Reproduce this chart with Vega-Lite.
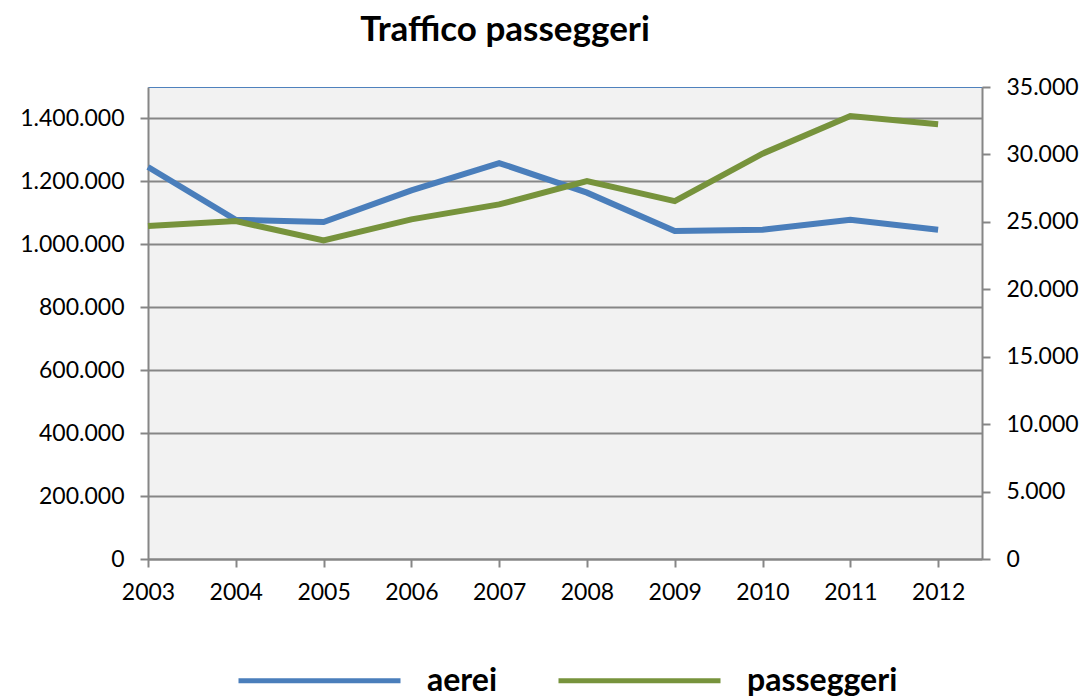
{
  "$schema": "https://vega.github.io/schema/vega-lite/v6.json",
  "autosize": {"type": "none"},
  "width": 834,
  "height": 472,
  "padding": {"left": 148, "top": 87, "right": 108, "bottom": 139},
  "background": "white",
  "config": {
    "locale": {"number": {"decimal": ",", "thousands": ".", "grouping": [3], "currency": ["€", ""]}},
    "font": "Lato",
    "view": {"fill": "#F2F2F2", "stroke": "#4F81BD", "strokeWidth": 1}
  },
  "title": {
    "text": "Traffico passeggeri",
    "fontSize": 35,
    "fontWeight": "bold",
    "font": "Lato",
    "color": "#000000",
    "anchor": "middle",
    "dx": -60,
    "offset": 28
  },
  "data": {
    "values": [
      {"anno": 2003, "serie": "aerei", "valore": 29065},
      {"anno": 2004, "serie": "aerei", "valore": 25160},
      {"anno": 2005, "serie": "aerei", "valore": 24983},
      {"anno": 2006, "serie": "aerei", "valore": 27335},
      {"anno": 2007, "serie": "aerei", "valore": 29361},
      {"anno": 2008, "serie": "aerei", "valore": 27165},
      {"anno": 2009, "serie": "aerei", "valore": 24314},
      {"anno": 2010, "serie": "aerei", "valore": 24418},
      {"anno": 2011, "serie": "aerei", "valore": 25160},
      {"anno": 2012, "serie": "aerei", "valore": 24418},
      {"anno": 2003, "serie": "passeggeri", "valore": 1057900},
      {"anno": 2004, "serie": "passeggeri", "valore": 1073800},
      {"anno": 2005, "serie": "passeggeri", "valore": 1012400},
      {"anno": 2006, "serie": "passeggeri", "valore": 1079200},
      {"anno": 2007, "serie": "passeggeri", "valore": 1126900},
      {"anno": 2008, "serie": "passeggeri", "valore": 1201000},
      {"anno": 2009, "serie": "passeggeri", "valore": 1137400},
      {"anno": 2010, "serie": "passeggeri", "valore": 1288200},
      {"anno": 2011, "serie": "passeggeri", "valore": 1407800},
      {"anno": 2012, "serie": "passeggeri", "valore": 1381400}
    ]
  },
  "encoding": {
    "x": {
      "field": "anno",
      "type": "quantitative",
      "scale": {"domain": [2003, 2012.5], "nice": false, "zero": false},
      "axis": {
        "title": null,
        "values": [2003, 2004, 2005, 2006, 2007, 2008, 2009, 2010, 2011, 2012],
        "format": "d",
        "grid": false,
        "domainColor": "#868686",
        "domainWidth": 2,
        "tickColor": "#868686",
        "tickWidth": 2,
        "tickSize": 8,
        "labelFont": "Lato",
        "labelFontSize": 23,
        "labelColor": "#000000",
        "labelPadding": 14,
        "labelFlush": false
      }
    },
    "color": {
      "field": "serie",
      "type": "nominal",
      "scale": {"domain": ["aerei", "passeggeri"], "range": ["#4A7EBB", "#77933C"]},
      "legend": {
        "title": null,
        "orient": "none",
        "direction": "horizontal",
        "legendX": 88,
        "legendY": 510,
        "symbolType": "stroke",
        "symbolSize": 26244,
        "symbolStrokeWidth": 5,
        "labelFont": "Lato",
        "labelFontSize": 32,
        "labelFontWeight": "bold",
        "labelColor": "#000000",
        "labelOffset": 24,
        "columnPadding": 50
      }
    }
  },
  "layer": [
    {
      "transform": [{"filter": "datum.serie === 'aerei'"}],
      "mark": {"type": "line", "strokeWidth": 6},
      "encoding": {
        "y": {
          "field": "valore",
          "type": "quantitative",
          "scale": {"domain": [0, 35000], "nice": false},
          "axis": {
            "orient": "right",
            "title": null,
            "values": [0, 5000, 10000, 15000, 20000, 25000, 30000, 35000],
            "format": ",d",
            "grid": false,
            "domainColor": "#868686",
            "domainWidth": 2,
            "tickColor": "#868686",
            "tickWidth": 2,
            "tickSize": 8,
            "labelFont": "Lato",
            "labelFontSize": 23,
            "labelColor": "#000000",
            "labelPadding": 16,
            "labelFlush": false
          }
        }
      }
    },
    {
      "transform": [{"filter": "datum.serie === 'passeggeri'"}],
      "mark": {"type": "line", "strokeWidth": 6},
      "encoding": {
        "y": {
          "field": "valore",
          "type": "quantitative",
          "scale": {"domain": [0, 1500000], "nice": false},
          "axis": {
            "orient": "left",
            "title": null,
            "values": [0, 200000, 400000, 600000, 800000, 1000000, 1200000, 1400000],
            "format": ",d",
            "grid": true,
            "gridColor": "#868686",
            "gridWidth": 2,
            "domainColor": "#868686",
            "domainWidth": 2,
            "tickColor": "#868686",
            "tickWidth": 2,
            "tickSize": 8,
            "labelFont": "Lato",
            "labelFontSize": 23,
            "labelColor": "#000000",
            "labelPadding": 16,
            "labelFlush": false
          }
        }
      }
    }
  ],
  "resolve": {"scale": {"y": "independent"}}
}
